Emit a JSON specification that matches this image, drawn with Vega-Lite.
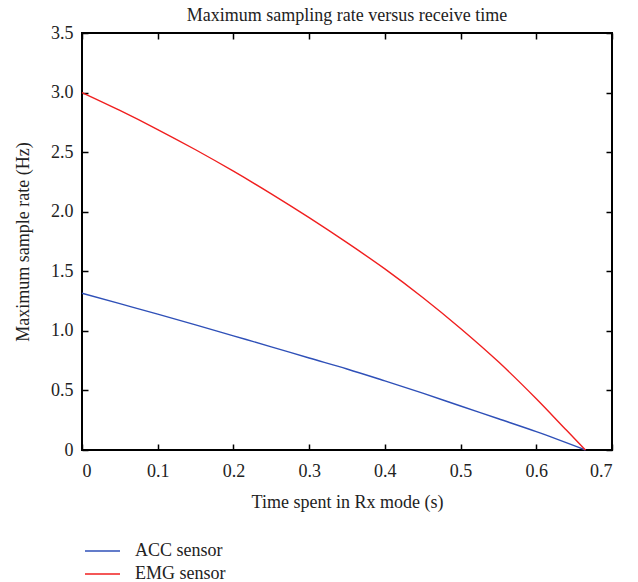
{
  "$schema": "https://vega.github.io/schema/vega-lite/v6.json",
  "width": 530,
  "height": 417,
  "autosize": "none",
  "padding": {"left": 82, "top": 33, "right": 26, "bottom": 132},
  "background": "white",
  "title": {
    "text": "Maximum sampling rate versus receive time",
    "font": "Liberation Serif",
    "fontSize": 18,
    "fontWeight": "normal",
    "color": "#222",
    "anchor": "middle",
    "offset": -1
  },
  "config": {
    "view": {"stroke": "black", "strokeWidth": 2},
    "font": "Liberation Serif"
  },
  "data": {
    "values": [
      {"t": 0, "rate": 1.316, "sensor": "ACC sensor"},
      {"t": 0.05, "rate": 1.228, "sensor": "ACC sensor"},
      {"t": 0.1, "rate": 1.14, "sensor": "ACC sensor"},
      {"t": 0.15, "rate": 1.05, "sensor": "ACC sensor"},
      {"t": 0.2, "rate": 0.958, "sensor": "ACC sensor"},
      {"t": 0.25, "rate": 0.866, "sensor": "ACC sensor"},
      {"t": 0.3, "rate": 0.772, "sensor": "ACC sensor"},
      {"t": 0.35, "rate": 0.68, "sensor": "ACC sensor"},
      {"t": 0.4, "rate": 0.58, "sensor": "ACC sensor"},
      {"t": 0.45, "rate": 0.477, "sensor": "ACC sensor"},
      {"t": 0.5, "rate": 0.369, "sensor": "ACC sensor"},
      {"t": 0.55, "rate": 0.262, "sensor": "ACC sensor"},
      {"t": 0.6, "rate": 0.154, "sensor": "ACC sensor"},
      {"t": 0.665, "rate": 0, "sensor": "ACC sensor"},
      {"t": 0, "rate": 3.0, "sensor": "EMG sensor"},
      {"t": 0.05, "rate": 2.85, "sensor": "EMG sensor"},
      {"t": 0.1, "rate": 2.69, "sensor": "EMG sensor"},
      {"t": 0.15, "rate": 2.52, "sensor": "EMG sensor"},
      {"t": 0.2, "rate": 2.34, "sensor": "EMG sensor"},
      {"t": 0.25, "rate": 2.15, "sensor": "EMG sensor"},
      {"t": 0.3, "rate": 1.95, "sensor": "EMG sensor"},
      {"t": 0.35, "rate": 1.74, "sensor": "EMG sensor"},
      {"t": 0.4, "rate": 1.52, "sensor": "EMG sensor"},
      {"t": 0.45, "rate": 1.28, "sensor": "EMG sensor"},
      {"t": 0.5, "rate": 1.02, "sensor": "EMG sensor"},
      {"t": 0.55, "rate": 0.74, "sensor": "EMG sensor"},
      {"t": 0.6, "rate": 0.43, "sensor": "EMG sensor"},
      {"t": 0.64, "rate": 0.165, "sensor": "EMG sensor"},
      {"t": 0.665, "rate": 0, "sensor": "EMG sensor"}
    ]
  },
  "layer": [
    {
      "mark": {"type": "line", "strokeWidth": 1.4, "interpolate": "monotone"},
      "encoding": {
        "x": {
          "field": "t", "type": "quantitative",
          "scale": {"domain": [0, 0.7], "nice": false, "zero": false},
          "axis": {
            "orient": "bottom",
            "title": "Time spent in Rx mode (s)",
            "values": [0, 0.1, 0.2, 0.3, 0.4, 0.5, 0.6, 0.7],
            "labelExpr": "datum.value == 0 ? '0' : format(datum.value, '.1f')",
            "grid": false, "domain": false,
            "tickSize": -6, "tickColor": "black", "tickWidth": 1.5,
            "labelPadding": 18,
            "labelFont": "Liberation Serif", "labelFontSize": 18, "labelColor": "#222",
            "titleFont": "Liberation Serif", "titleFontSize": 18, "titleFontWeight": "normal", "titleColor": "#222",
            "titlePadding": 13
          }
        },
        "y": {
          "field": "rate", "type": "quantitative",
          "scale": {"domain": [0, 3.5], "nice": false},
          "axis": {
            "orient": "left",
            "title": "Maximum sample rate (Hz)",
            "values": [0, 0.5, 1, 1.5, 2, 2.5, 3, 3.5],
            "labelExpr": "datum.value == 0 ? '0' : format(datum.value, '.1f')",
            "grid": false, "domain": false,
            "tickSize": -6, "tickColor": "black", "tickWidth": 1.5,
            "labelPadding": 15,
            "labelFont": "Liberation Serif", "labelFontSize": 18, "labelColor": "#222",
            "titleFont": "Liberation Serif", "titleFontSize": 18, "titleFontWeight": "normal", "titleColor": "#222",
            "titlePadding": 18
          }
        },
        "color": {
          "field": "sensor", "type": "nominal",
          "scale": {"domain": ["ACC sensor", "EMG sensor"], "range": ["#2f50b8", "#f01f1f"]},
          "legend": {
            "title": null,
            "orient": "none",
            "legendX": 2,
            "legendY": 508,
            "direction": "vertical",
            "symbolType": "stroke",
            "symbolSize": 1225,
            "symbolStrokeWidth": 1.4,
            "clipHeight": 20,
            "labelFont": "Liberation Serif",
            "labelFontSize": 18,
            "labelColor": "#222",
            "labelOffset": 14,
            "rowPadding": 3
          }
        }
      }
    },
    {
      "mark": {"type": "line", "opacity": 0},
      "encoding": {
        "x": {
          "field": "t", "type": "quantitative",
          "axis": {
            "orient": "top", "title": null, "labels": false,
            "values": [0, 0.1, 0.2, 0.3, 0.4, 0.5, 0.6, 0.7],
            "grid": false, "domain": false,
            "tickSize": -6, "tickColor": "black", "tickWidth": 1.5
          }
        },
        "y": {
          "field": "rate", "type": "quantitative",
          "axis": {
            "orient": "right", "title": null, "labels": false,
            "values": [0, 0.5, 1, 1.5, 2, 2.5, 3, 3.5],
            "grid": false, "domain": false,
            "tickSize": -6, "tickColor": "black", "tickWidth": 1.5
          }
        },
        "detail": {"field": "sensor"}
      }
    }
  ],
  "resolve": {"axis": {"x": "independent", "y": "independent"}}
}
